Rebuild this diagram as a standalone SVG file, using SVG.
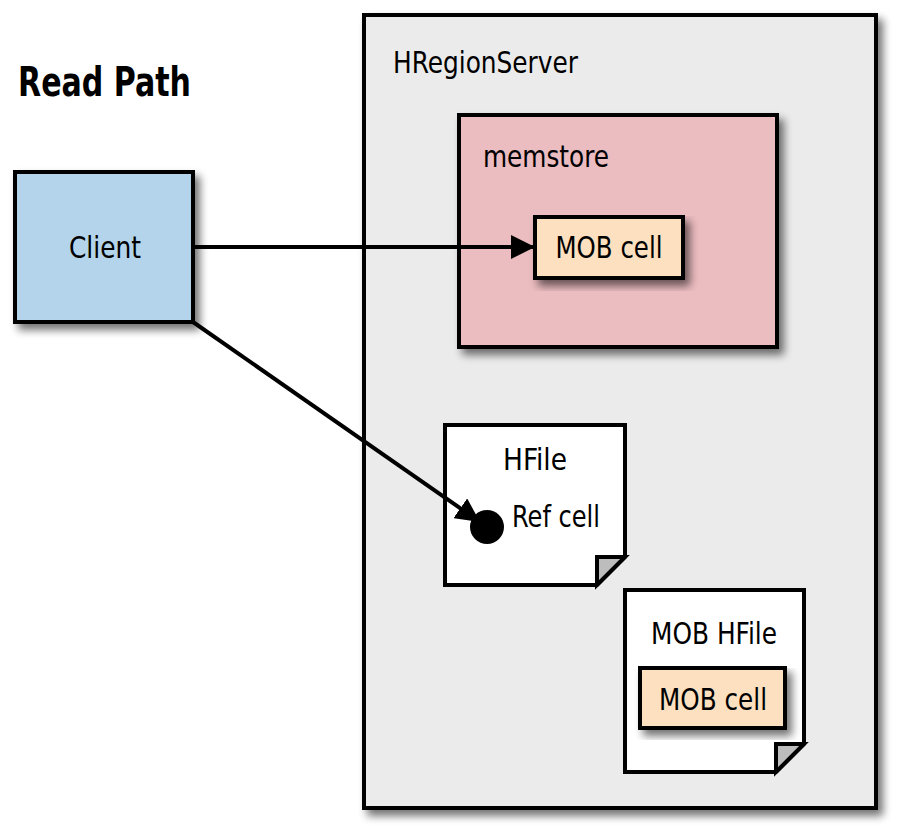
<svg xmlns="http://www.w3.org/2000/svg" width="904" height="839" viewBox="0 0 904 839">
<defs>
<filter id="sh" x="-10%" y="-10%" width="130%" height="130%">
<feGaussianBlur in="SourceAlpha" stdDeviation="4"/>
<feOffset dx="5" dy="6" result="b"/>
<feComponentTransfer><feFuncA type="linear" slope="0.55"/></feComponentTransfer>
<feMerge><feMergeNode/><feMergeNode in="SourceGraphic"/></feMerge>
</filter>
<marker id="ah" viewBox="0 0 24 24" refX="24" refY="12" markerWidth="24" markerHeight="24" markerUnits="userSpaceOnUse" orient="auto">
<path d="M0,0 L24,12 L0,24 Z" fill="#000"/>
</marker>
</defs>
<style>
.box{stroke:#000;stroke-width:4;stroke-linejoin:miter}
.t{font-family:"DejaVu Sans Condensed","DejaVu Sans",sans-serif;font-size:31px;fill:#000}
.c{text-anchor:middle}
.conn{stroke:#000;stroke-width:4;fill:none}
</style>
<rect width="904" height="839" fill="#fff"/>
<text x="18" y="96" style="font-family:'DejaVu Sans Condensed','DejaVu Sans',sans-serif;font-weight:bold;font-size:40px" textLength="173" lengthAdjust="spacingAndGlyphs">Read Path</text>
<g id="server">
<rect class="box" x="364" y="15" width="512" height="793" fill="#ebebeb" filter="url(#sh)"/>
<text class="t" x="393" y="73" textLength="185" lengthAdjust="spacingAndGlyphs">HRegionServer</text>
</g>
<g id="client">
<rect class="box" x="15" y="172" width="178" height="150" fill="#b3d4ea" filter="url(#sh)"/>
<text class="t c" x="105" y="258" textLength="72" lengthAdjust="spacingAndGlyphs">Client</text>
</g>
<g id="memstore">
<rect class="box" x="459" y="115" width="318" height="232" fill="#ebbcc0" filter="url(#sh)"/>
<text class="t" x="483" y="167" textLength="126" lengthAdjust="spacingAndGlyphs">memstore</text>
</g>
<g id="mobcell1">
<rect class="box" x="535" y="217" width="148" height="61" fill="#fde0bf" filter="url(#sh)"/>
<text class="t c" x="609" y="258" textLength="107" lengthAdjust="spacingAndGlyphs">MOB cell</text>
</g>
<g id="hfile">
<path class="box" d="M445,425 H625 V557 L597,585 H445 Z" fill="#fff"/>
<path class="box" d="M625,557 H597 V585 Z" fill="#bdbdbd" stroke-width="3"/>
<text class="t c" x="535" y="470" textLength="64" lengthAdjust="spacingAndGlyphs">HFile</text>
<text class="t" x="512" y="527" textLength="88" lengthAdjust="spacingAndGlyphs">Ref cell</text>
<circle cx="487" cy="527" r="17" fill="#000"/>
</g>
<g id="mobhfile">
<path class="box" d="M625,590 H804 V744 L776,772 H625 Z" fill="#fff"/>
<path class="box" d="M804,744 H776 V772 Z" fill="#bdbdbd" stroke-width="3"/>
<text class="t c" x="714" y="644" textLength="126" lengthAdjust="spacingAndGlyphs">MOB HFile</text>
</g>
<g id="mobcell2">
<rect class="box" x="640" y="668" width="145" height="60" fill="#fde0bf" filter="url(#sh)"/>
<text class="t c" x="713" y="710" textLength="108" lengthAdjust="spacingAndGlyphs">MOB cell</text>
</g>
<g id="connectors">
<line class="conn" x1="193" y1="247" x2="535" y2="247" marker-end="url(#ah)"/>
<line class="conn" x1="193" y1="322" x2="480" y2="522" marker-end="url(#ah)"/>
</g>
</svg>
